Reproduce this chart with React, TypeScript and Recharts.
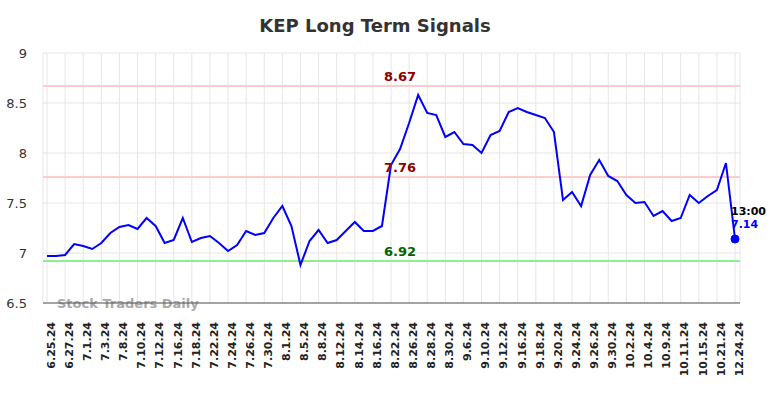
import React from 'react';
import { LineChart, Line, XAxis, YAxis, CartesianGrid, ReferenceLine, ReferenceDot } from 'recharts';

const tickLabels = [
  '6.25.24', '6.27.24', '7.1.24', '7.3.24', '7.8.24', '7.10.24', '7.12.24', '7.16.24', '7.18.24', '7.22.24',
  '7.24.24', '7.26.24', '7.30.24', '8.1.24', '8.5.24', '8.8.24', '8.12.24', '8.14.24', '8.16.24', '8.22.24',
  '8.26.24', '8.28.24', '8.30.24', '9.6.24', '9.10.24', '9.12.24', '9.16.24', '9.18.24', '9.20.24', '9.24.24',
  '9.26.24', '9.30.24', '10.2.24', '10.4.24', '10.9.24', '10.11.24', '10.15.24', '10.21.24', '12.24.24',
];

const prices = [
  6.97, 6.97, 6.98, 7.09, 7.07, 7.04, 7.10, 7.20, 7.26, 7.28,
  7.24, 7.35, 7.27, 7.10, 7.13, 7.35, 7.11, 7.15, 7.17, 7.10,
  7.02, 7.08, 7.22, 7.18, 7.20, 7.35, 7.47, 7.27, 6.88, 7.12,
  7.23, 7.10, 7.13, 7.22, 7.31, 7.22, 7.22, 7.27, 7.88, 8.04,
  8.30, 8.58, 8.40, 8.38, 8.16, 8.21, 8.09, 8.08, 8.00, 8.18,
  8.22, 8.41, 8.45, 8.41, 8.38, 8.35, 8.21, 7.53, 7.61, 7.47,
  7.78, 7.93, 7.77, 7.72, 7.58, 7.50, 7.51, 7.37, 7.42, 7.32,
  7.35, 7.58, 7.50, 7.57, 7.63, 7.90, 7.14,
];

const resistanceHigh = 8.67;
const resistanceMid = 7.76;
const support = 6.92;
const lastTime = '13:00';
const yTicks = [6.5, 7, 7.5, 8, 8.5, 9];

const data = prices.map((v, i) => ({ i, v }));
const xTicks = tickLabels.map((_, k) => k * 2);
const lastIndex = prices.length - 1;
const lastValue = prices[lastIndex];
const labelIndex = 39;

const FONT = 'DejaVu Sans, sans-serif';

const LastLabel = (props: any) => {
  const { viewBox } = props;
  const x = viewBox.x;
  const y = viewBox.y;
  return (
    <g>
      <text x={x} y={y - 20} fill="#000" fontSize={11} fontWeight="bold" fontFamily={FONT}>{lastTime}</text>
      <text x={x} y={y - 7} fill="#0000ff" fontSize={11} fontWeight="bold" fontFamily={FONT}>{lastValue.toFixed(2)}</text>
    </g>
  );
};

export default function App() {
  return (
    <div style={{ position: 'absolute', left: 0, top: 0, width: 784, height: 398, background: '#fff' }}>
      <LineChart width={784} height={398} data={data} margin={{ top: 53, right: 44, bottom: 0, left: 0 }}>
        <text x={375} y={32} textAnchor="middle" fontSize={18} fontWeight="bold" fill="#333" fontFamily={FONT}>
          KEP Long Term Signals
        </text>
        <CartesianGrid stroke="#e6e6e6" strokeWidth={1} />
        <XAxis
          type="number"
          dataKey="i"
          domain={[0, lastIndex]}
          ticks={xTicks}
          interval={0}
          tickFormatter={(i: number) => tickLabels[i / 2]}
          angle={-90}
          textAnchor="end"
          tickLine={false}
          tickSize={6}
          tickMargin={13}
          height={95}
          padding={{ left: 4, right: 5 }}
          axisLine={{ stroke: '#555', strokeWidth: 1 }}
          tick={{ fill: '#222', fontSize: 11, fontWeight: 'bold', fontFamily: FONT }}
        />
        <YAxis
          type="number"
          domain={[6.5, 9]}
          ticks={yTicks}
          width={43}
          axisLine={false}
          tickLine={false}
          tickSize={6}
          tickMargin={10}
          tick={{ fill: '#333', fontSize: 13, fontFamily: FONT }}
        />
        <text x={57} y={308} fontSize={13} fontWeight="bold" fill="#aaa" fontFamily={FONT}>Stock Traders Daily</text>
        <ReferenceLine y={resistanceHigh} stroke="#ffcccc" strokeWidth={2} />
        <ReferenceLine y={resistanceMid} stroke="#ffcccc" strokeWidth={2} />
        <ReferenceLine y={support} stroke="#90ee90" strokeWidth={2} />
        <Line type="linear" dataKey="v" stroke="#0000ff" strokeWidth={2} dot={false} isAnimationActive={false} />
        <ReferenceDot x={labelIndex} y={resistanceHigh} r={0} stroke="none"
          label={{ value: resistanceHigh.toFixed(2), position: 'top', fill: '#8b0000', fontSize: 13, fontWeight: 'bold', fontFamily: FONT }} />
        <ReferenceDot x={labelIndex} y={resistanceMid} r={0} stroke="none"
          label={{ value: resistanceMid.toFixed(2), position: 'top', fill: '#8b0000', fontSize: 13, fontWeight: 'bold', fontFamily: FONT }} />
        <ReferenceDot x={labelIndex} y={support} r={0} stroke="none"
          label={{ value: support.toFixed(2), position: 'top', fill: '#006400', fontSize: 13, fontWeight: 'bold', fontFamily: FONT }} />
        <ReferenceDot x={lastIndex} y={lastValue} r={4} fill="#0000ff" stroke="#0000ff" label={<LastLabel />} />
      </LineChart>
    </div>
  );
}
